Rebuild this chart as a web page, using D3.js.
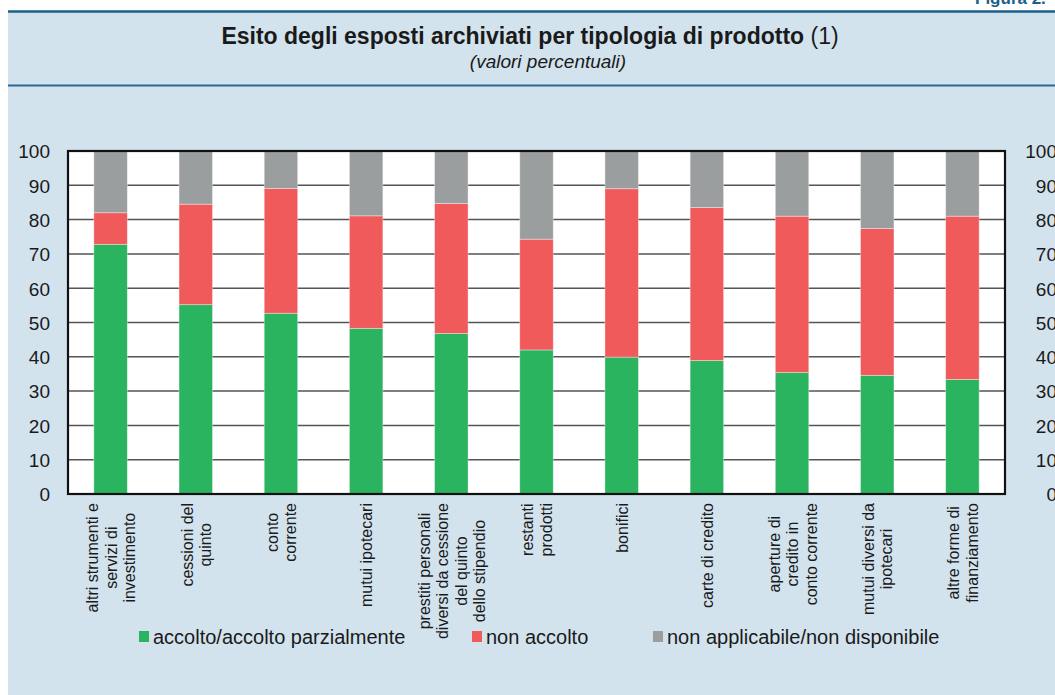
<!DOCTYPE html>
<html>
<head>
<meta charset="utf-8">
<script src="https://cdn.jsdelivr.net/npm/d3@7"></script>
<style>
  html, body { margin: 0; padding: 0; background: #ffffff; }
  svg { display: block; font-family: "Liberation Sans", Arial, Helvetica, sans-serif; }
</style>
</head>
<body>
<svg id="chart" width="1055" height="695"></svg>
<script>
// ---- data ----
const categories = [
  ["altri strumenti e", "servizi di", "investimento"],
  ["cessioni del", "quinto"],
  ["conto", "corrente"],
  ["mutui ipotecari"],
  ["prestiti personali", "diversi da cessione", "del quinto", "dello stipendio"],
  ["restanti", "prodotti"],
  ["bonifici"],
  ["carte di credito"],
  ["aperture di", "credito in", "conto corrente"],
  ["mutui diversi da", "ipotecari"],
  ["altre forme di", "finanziamento"]
];
const accolto        = [72.8, 55.2, 52.7, 48.3, 46.8, 42.0, 39.9, 38.9, 35.4, 34.6, 33.4];
const nonAccolto     = [ 9.2, 29.3, 36.4, 32.8, 37.9, 32.3, 49.1, 44.6, 45.6, 42.8, 47.6];
const nonApplicabile = [18.0, 15.5, 10.9, 18.9, 15.3, 25.7, 11.0, 16.5, 19.0, 22.6, 19.0];
const seriesNames = ["accolto/accolto parzialmente", "non accolto", "non applicabile/non disponibile"];
const yTicks = [0, 10, 20, 30, 40, 50, 60, 70, 80, 90, 100];
const titleBold = "Esito degli esposti archiviati per tipologia di prodotto";
const titleNote = " (1)";
const subtitle = "(valori percentuali)";
const figureLabel = "Figura 2.";

// ---- styles ----
const colors = ["#2bb45f", "#f05a5b", "#9b9e9f"];
const panelBg = "#d2e3ee";
const darkBlue = "#1b5e88";

const svg = d3.select("#chart");
const W = 1055, H = 695;

// panel background
svg.append("rect").attr("x", 8).attr("y", 11).attr("width", W).attr("height", H)
  .attr("fill", panelBg);
svg.append("line").attr("x1", 8).attr("x2", W).attr("y1", 11.5).attr("y2", 11.5)
  .attr("stroke", darkBlue).attr("stroke-width", 2.5);
svg.append("line").attr("x1", 8).attr("x2", W).attr("y1", 85.5).attr("y2", 85.5)
  .attr("stroke", "#2a6a92").attr("stroke-width", 2);

svg.append("text").attr("x", 975).attr("y", 4).attr("font-size", 17)
  .attr("font-weight", "bold").attr("fill", darkBlue).text(figureLabel);

// title
const t = svg.append("text").attr("x", 530).attr("y", 43.5).attr("text-anchor", "middle")
  .attr("font-size", 23).attr("fill", "#1a1a1a");
t.append("tspan").attr("font-weight", "bold").text(titleBold);
t.append("tspan").text(titleNote);
svg.append("text").attr("x", 548).attr("y", 68).attr("text-anchor", "middle")
  .attr("font-size", 19).attr("font-style", "italic").attr("fill", "#1a1a1a").text(subtitle);

// ---- plot ----
const plot = { left: 68, right: 1005, top: 151, bottom: 494 };
const idx = d3.range(categories.length);
const x = d3.scaleBand().domain(idx).range([plot.left, plot.right])
  .paddingInner(0.607).paddingOuter(0.3035);
const y = d3.scaleLinear().domain([0, 100]).range([plot.bottom, plot.top]);

svg.append("rect").attr("x", plot.left).attr("y", plot.top)
  .attr("width", plot.right - plot.left).attr("height", plot.bottom - plot.top)
  .attr("fill", "#ffffff");

// gridlines
svg.append("g").selectAll("line").data(yTicks.filter(d => d > 0 && d < 100)).join("line")
  .attr("x1", plot.left).attr("x2", plot.right)
  .attr("y1", d => y(d)).attr("y2", d => y(d))
  .attr("stroke", "#555").attr("stroke-width", 1.5);

// stacked bars
const rows = idx.map(i => ({ i, a: accolto[i], n: nonAccolto[i], p: nonApplicabile[i] }));
const stack = d3.stack().keys(["a", "n", "p"])(rows);
svg.append("g").selectAll("g").data(stack).join("g")
  .attr("fill", (d, k) => colors[k])
  .selectAll("rect").data(d => d).join("rect")
  .attr("x", d => x(d.data.i))
  .attr("width", x.bandwidth())
  .attr("y", d => y(Math.min(100, d[1])))
  .attr("height", d => y(d[0]) - y(Math.min(100, d[1])))
  .attr("stroke", "rgba(255,255,255,0.45)").attr("stroke-width", 0.8);

// frame
svg.append("rect").attr("x", plot.left).attr("y", plot.top)
  .attr("width", plot.right - plot.left).attr("height", plot.bottom - plot.top)
  .attr("fill", "none").attr("stroke", "#111").attr("stroke-width", 2.2);

// axes (left and right), labels only
const leftAxis = d3.axisLeft(y).tickValues(yTicks).tickSize(0).tickPadding(0);
const gl = svg.append("g").attr("transform", `translate(50,0)`).call(leftAxis);
const rightAxis = d3.axisLeft(y).tickValues(yTicks).tickSize(0).tickPadding(0);
const gr = svg.append("g").attr("transform", `translate(1057,0)`).call(rightAxis);
[gl, gr].forEach(g => {
  g.select(".domain").remove();
  g.selectAll("text").attr("font-size", 19).attr("fill", "#1a1a1a")
    .attr("font-family", "'Liberation Sans', Arial, sans-serif").attr("dy", "0.36em");
});

// category labels (rotated, multi-line, centered block)
const lh = 18.5;
const labelTop = 503;
const catG = svg.append("g");
categories.forEach((lines, i) => {
  const cx = x(i) + x.bandwidth() / 2;
  const g = catG.append("g");
  const texts = lines.map((ln, j) => g.append("text")
    .attr("font-size", 16).attr("fill", "#1a1a1a").attr("text-anchor", "middle")
    .text(ln));
  const maxW = d3.max(texts, tx => tx.node().getComputedTextLength());
  const cy = labelTop + maxW / 2;
  texts.forEach((tx, j) => {
    const lx = cx + (j - (lines.length - 1) / 2) * lh;
    tx.attr("transform", `translate(${lx + 6},${cy}) rotate(-90)`);
  });
});

// legend
const legendX = [139, 472, 653];
const lg = svg.append("g");
seriesNames.forEach((name, k) => {
  lg.append("rect").attr("x", legendX[k]).attr("y", 631).attr("width", 10).attr("height", 11)
    .attr("fill", colors[k]);
  lg.append("text").attr("x", legendX[k] + 14).attr("y", 644).attr("font-size", 20)
    .attr("fill", "#1a1a1a").text(name);
});
</script>
</body>
</html>
